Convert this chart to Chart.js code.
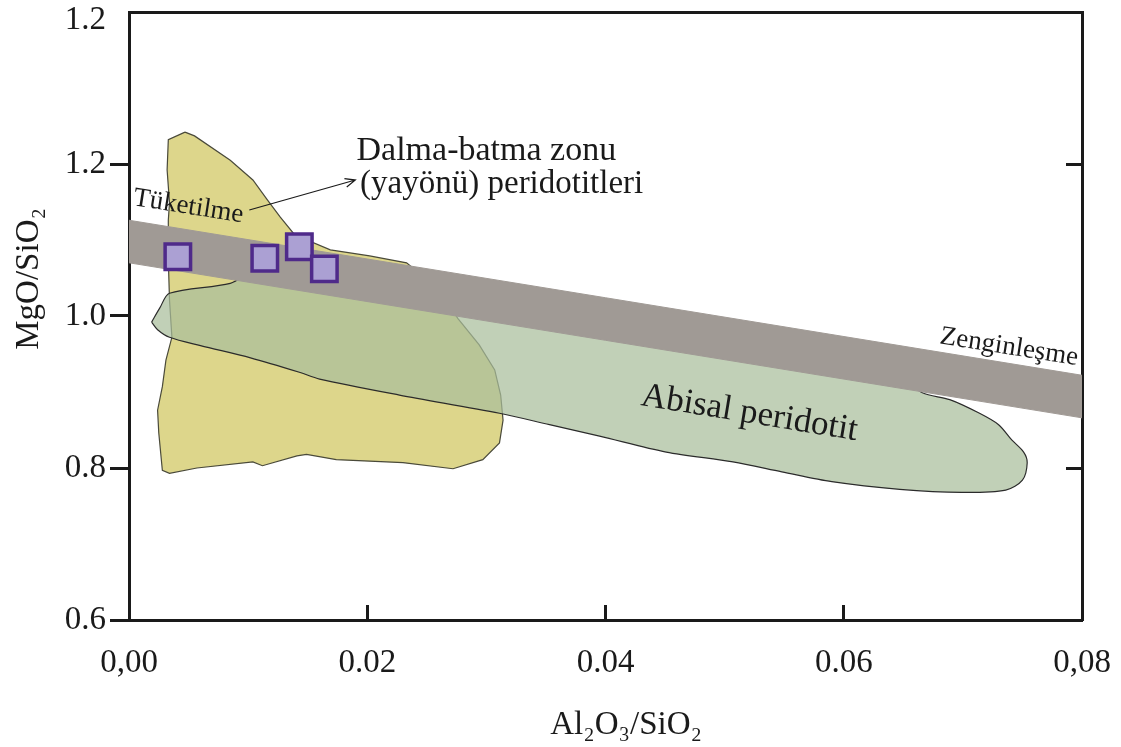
<!DOCTYPE html>
<html>
<head>
<meta charset="utf-8">
<script src="https://cdn.jsdelivr.net/npm/chart.js@4.4.0/dist/chart.umd.min.js"></script>
<style>
  html, body { margin: 0; padding: 0; background: #fff; }
  #wrap { width: 1121px; height: 747px; position: relative; }
</style>
</head>
<body>
<div id="wrap"><canvas id="chart"></canvas></div>
<script>
// tick labels as printed on the figure
var xTickLabels = ["0,00", "0.02", "0.04", "0.06", "0,08"]
var yTickLabels = ["0.6", "0.8", "1.0", "1.2", "1.2"]

// samples: Al2O3/SiO2 vs MgO/SiO2
var sampleX = [0.0041, 0.0114, 0.0143, 0.0164]
var sampleY = [1.078, 1.076, 1.091, 1.062]

// tuketilme -> zenginlesme band
var bandX = [0, 0.08, 0.08, 0, 0]
var bandY = [1.126, 0.922, 0.866, 1.070, 1.126]

// dalma-batma zonu (yayonu) peridotit field
var szX = [0.0047, 0.0055, 0.0085, 0.0104, 0.0116, 0.0127, 0.0139, 0.0169, 0.0202, 0.0233,
    0.0261, 0.0276, 0.0294, 0.0307, 0.0312, 0.0314, 0.0311, 0.0297, 0.0272, 0.0230,
    0.0174, 0.0149, 0.0141, 0.0112, 0.0104, 0.0057, 0.0034, 0.0028, 0.0025, 0.0024,
    0.0028, 0.0031, 0.0036, 0.0034, 0.0033, 0.0033, 0.0034, 0.0032, 0.0033, 0.0047]
var szY = [1.242, 1.237, 1.205, 1.179, 1.153, 1.130, 1.107, 1.087, 1.079, 1.070,
    1.034, 0.997, 0.962, 0.929, 0.896, 0.863, 0.833, 0.811, 0.799, 0.807,
    0.811, 0.818, 0.816, 0.803, 0.808, 0.800, 0.793, 0.797, 0.846, 0.876,
    0.907, 0.942, 0.972, 1.021, 1.074, 1.126, 1.149, 1.192, 1.232, 1.242]

// abisal peridotit field
var abX = [0.0019, 0.0026, 0.0034, 0.0085, 0.0110, 0.0395, 0.0647, 0.0666, 0.0689, 0.0714,
    0.0730, 0.0741, 0.0751, 0.0754, 0.0750, 0.0736, 0.0699, 0.0647, 0.0590, 0.0548,
    0.0507, 0.0451, 0.0395, 0.0353, 0.0311, 0.0227, 0.0160, 0.0143, 0.0102, 0.0060,
    0.0034, 0.0024, 0.0019]
var abY = [0.992, 1.011, 1.030, 1.043, 1.061, 0.997, 0.922, 0.899, 0.890, 0.872,
    0.857, 0.837, 0.821, 0.807, 0.784, 0.771, 0.768, 0.772, 0.782, 0.795,
    0.808, 0.821, 0.842, 0.857, 0.872, 0.896, 0.917, 0.926, 0.945, 0.961,
    0.972, 0.982, 0.992]

function toPoints(xs, ys) {
    return xs.map(function (x, i) { return { x: x, y: ys[i] } })
}

var serif = "'Liberation Serif', 'Times New Roman', serif"
var ink = "#1a1a1a"
var clear = "rgba(0,0,0,0)"

// fixed box sizes so the frame lands where it is in the figure
function fixBox(w, h) {
    return function (s) {
        if (w !== null) s.width = w
        if (h !== null) s.height = h
        s.paddingLeft = 0
        s.paddingRight = 0
        s.paddingTop = 0
        s.paddingBottom = 0
    }
}

// labels drawn on top of the plot, placed in data units
var notes = [
    { text: "Dalma-batma zonu", x: 0.0191, y: 1.205, size: 34, angle: 0 },
    { text: "(yayönü) peridotitleri", x: 0.0194, y: 1.162, size: 33, angle: 0 },
    { text: "Tüketilme", x: 0.0003, y: 1.146, size: 27, angle: 9 },
    { text: "Zenginleşme", x: 0.0680, y: 0.964, size: 27, angle: 9 },
    { text: "Abisal peridotit", x: 0.0429, y: 0.883, size: 35, angle: 9.3 },
]
var arrow = { from: [0.0101, 1.1395], to: [0.0190, 1.1789] }

var notesPlugin = {
    id: "notes",
    afterDatasetsDraw: function (chart) {
        var ctx = chart.ctx
        var xs = chart.scales.x, ys = chart.scales.y
        ctx.save()
        ctx.fillStyle = ink
        ctx.textBaseline = "alphabetic"
        ctx.textAlign = "left"
        notes.forEach(function (n) {
            ctx.save()
            ctx.translate(xs.getPixelForValue(n.x), ys.getPixelForValue(n.y))
            ctx.rotate(n.angle * Math.PI / 180)
            ctx.font = n.size + "px " + serif
            ctx.fillText(n.text, 0, 0)
            ctx.restore()
        })
        var x1 = xs.getPixelForValue(arrow.from[0]), y1 = ys.getPixelForValue(arrow.from[1])
        var x2 = xs.getPixelForValue(arrow.to[0]), y2 = ys.getPixelForValue(arrow.to[1])
        var a = Math.atan2(y2 - y1, x2 - x1)
        ctx.strokeStyle = ink
        ctx.lineWidth = 1.2
        ctx.beginPath()
        ctx.moveTo(x1, y1)
        ctx.lineTo(x2, y2)
        ctx.moveTo(x2 - 11 * Math.cos(a - 0.4), y2 - 11 * Math.sin(a - 0.4))
        ctx.lineTo(x2, y2)
        ctx.lineTo(x2 - 11 * Math.cos(a + 0.4), y2 - 11 * Math.sin(a + 0.4))
        ctx.stroke()
        ctx.restore()
    },
}

new Chart("chart", {
    type: "line",
    data: {
        datasets: [
            {
                label: "Örnekler",
                data: toPoints(sampleX, sampleY),
                showLine: false,
                pointStyle: "rect",
                pointRadius: 18,
                pointBackgroundColor: "#aba0d3",
                pointBorderColor: "#4f2a8a",
                pointBorderWidth: 3.5,
            },
            {
                label: "band",
                data: toPoints(bandX, bandY),
                fill: "shape",
                backgroundColor: "#a09a95",
                borderColor: "#a09a95",
                borderWidth: 1,
                pointRadius: 0,
                tension: 0,
            },
            {
                label: "Abisal peridotit",
                data: toPoints(abX, abY),
                fill: "shape",
                backgroundColor: "rgba(169,190,155,0.72)",
                borderColor: "#2b2b2b",
                borderWidth: 1.2,
                pointRadius: 0,
                tension: 0.3,
            },
            {
                label: "Dalma-batma zonu",
                data: toPoints(szX, szY),
                fill: "shape",
                backgroundColor: "#ddd68b",
                borderColor: "#4a4a3a",
                borderWidth: 1.2,
                pointRadius: 0,
                tension: 0,
            },
        ],
    },
    options: {
        responsive: true,
        maintainAspectRatio: false,
        animation: false,
        events: [],
        layout: { padding: 0, autoPadding: false },
        plugins: {
            legend: { display: false },
            tooltip: { enabled: false },
        },
        scales: {
            x: {
                type: "linear",
                position: "bottom",
                min: 0,
                max: 0.08,
                afterFit: fixBox(null, 127),
                ticks: {
                    stepSize: 0.02,
                    autoSkip: false,
                    maxRotation: 0,
                    padding: 39,
                    color: ink,
                    font: { family: serif, size: 33 },
                    callback: function (v, i) { return xTickLabels[i] },
                },
                grid: {
                    drawOnChartArea: false,
                    tickLength: -15,
                    tickWidth: 3,
                    tickColor: function (c) { return c.index === 0 || c.index === 4 ? clear : ink },
                },
                border: { display: true, color: ink, width: 3 },
                title: {
                    display: true,
                    text: "     Al₂O₃/SiO₂",
                    color: ink,
                    font: { family: serif, size: 33 },
                    padding: { top: 0, bottom: 2 },
                },
            },
            y: {
                type: "linear",
                position: "left",
                min: 0.6,
                max: 1.4,
                afterFit: fixBox(129, null),
                ticks: {
                    stepSize: 0.2,
                    autoSkip: false,
                    padding: 4,
                    color: ink,
                    font: { family: serif, size: 33, lineHeight: 0.5 },
                    // the top label sits a little below the corner in the figure
                    callback: function (v, i) { return i === 4 ? ["", yTickLabels[i]] : yTickLabels[i] },
                },
                grid: {
                    drawOnChartArea: false,
                    tickLength: 19,
                    tickWidth: 3,
                    tickColor: function (c) { return c.index === 4 ? clear : ink },
                },
                border: { display: true, color: ink, width: 3 },
                title: {
                    display: true,
                    text: "         MgO/SiO₂",
                    color: ink,
                    font: { family: serif, size: 33 },
                    padding: { top: 10, bottom: 0 },
                },
            },
            x2: {
                type: "linear",
                position: "top",
                min: 0,
                max: 0.08,
                afterFit: fixBox(null, 12),
                ticks: { display: false },
                grid: { drawOnChartArea: false, drawTicks: false },
                border: { display: true, color: ink, width: 3 },
            },
            y2: {
                type: "linear",
                position: "right",
                min: 0.6,
                max: 1.4,
                afterFit: fixBox(39, null),
                ticks: { display: false, stepSize: 0.2 },
                grid: {
                    drawOnChartArea: false,
                    tickLength: -16,
                    tickWidth: 3,
                    tickColor: function (c) { return c.index === 1 || c.index === 3 ? ink : clear },
                },
                border: { display: true, color: ink, width: 3 },
            },
        },
    },
    plugins: [notesPlugin],
})
</script>
</body>
</html>
